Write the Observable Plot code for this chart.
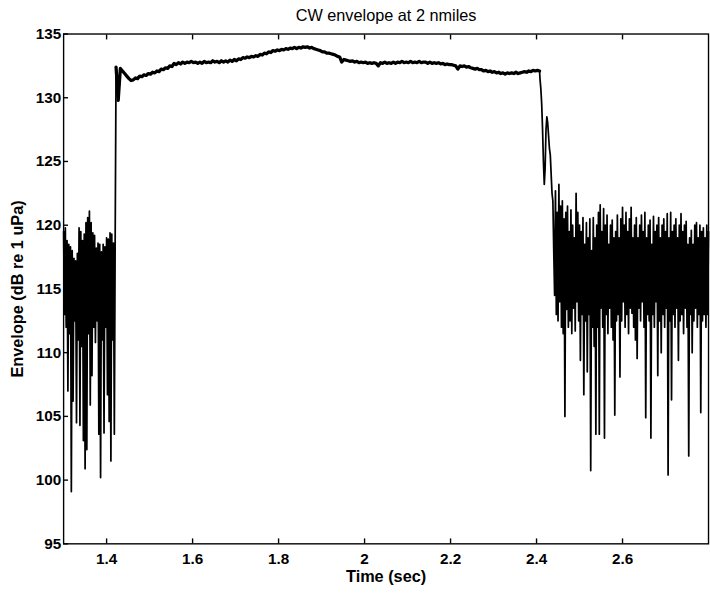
<!DOCTYPE html>
<html>
<head>
<meta charset="utf-8">
<script src="https://cdn.jsdelivr.net/npm/d3@7"></script>
<script src="https://cdn.jsdelivr.net/npm/@observablehq/plot@0.6"></script>
<style>
  html, body { margin: 0; padding: 0; background: #fff; overflow: hidden; }
  #chart { position: absolute; left: 0; top: 0; }
</style>
</head>
<body>
<div id="chart"></div>
<script>
// ---- Chart text ----
const titleText = "CW envelope at 2 nmiles";
const xLabel = "Time (sec)";
const yLabel = "Envelope (dB re 1 uPa)";

// ---- Axis ticks ----
const xTicks = [1.4, 1.6, 1.8, 2.0, 2.2, 2.4, 2.6];
const xTickLabels = ["1.4", "1.6", "1.8", "2", "2.2", "2.4", "2.6"];
const yTicks = [95, 100, 105, 110, 115, 120, 125, 130, 135];
const xDomain = [1.3, 2.8];
const yDomain = [95, 135];

// ---- Pre-pulse noise (sampled every 2 ms from 1.300 s) ----
const noiseBeforeT0 = 1.300;
const noiseBeforeDt = 0.002;
const noiseBefore = [
  119.5, 113.0, 119.8, 112.0, 118.8, 107.0, 118.5, 111.5, 118.3, 99.1,
  118.0, 106.2, 117.4, 112.5, 117.2, 104.5, 117.8, 111.0, 119.8, 104.3,
  119.5, 110.5, 118.8, 103.1, 119.3, 100.9, 120.2, 102.4, 120.6, 111.5,
  121.1, 105.9, 120.2, 108.2, 119.4, 112.0, 119.2, 110.8, 118.2, 112.5,
  118.6, 103.6, 118.5, 100.2, 117.9, 111.0, 118.5, 103.7, 118.3, 112.0,
  119.0, 106.7, 118.9, 104.6, 119.4, 101.5, 119.3, 111.0, 118.6, 103.6,
  119.4
];

// ---- CW pulse plateau (sampled every 5 ms from 1.422 s) ----
const pulseT0 = 1.422;
const pulseDt = 0.005;
const pulse = [
  132.4, 129.8, 132.3, 132.1, 131.9, 131.7, 131.5, 131.35, 131.4, 131.55,
  131.5, 131.7, 131.65, 131.8, 131.75, 131.9, 131.85, 132.0, 131.95, 132.1,
  132.05, 132.25, 132.2, 132.35, 132.3, 132.5, 132.45, 132.7, 132.6, 132.75,
  132.65, 132.8, 132.7, 132.8, 132.75, 132.85, 132.75, 132.8, 132.7, 132.8,
  132.7, 132.85, 132.75, 132.8, 132.75, 132.9, 132.8, 132.85, 132.75, 132.9,
  132.8, 132.9, 132.8, 132.95, 132.85, 133.0, 132.9, 133.05, 133.0, 133.15,
  133.1, 133.2, 133.15, 133.25, 133.2, 133.3, 133.25, 133.4, 133.35, 133.5,
  133.45, 133.6, 133.55, 133.7, 133.65, 133.75, 133.7, 133.8, 133.75, 133.85,
  133.8, 133.9, 133.85, 133.95, 133.85, 133.95, 133.9, 134.0, 133.95, 134.0,
  133.9, 133.95, 133.85, 133.8, 133.75, 133.7, 133.6, 133.6, 133.5, 133.5,
  133.45, 133.4, 133.35, 133.25, 133.2, 132.8, 133.0, 132.95, 132.9, 132.85,
  132.9, 132.8, 132.85, 132.75, 132.8, 132.75, 132.8, 132.7, 132.75, 132.7,
  132.75, 132.7, 132.5, 132.75, 132.7, 132.8, 132.7, 132.75, 132.7, 132.8,
  132.7, 132.8, 132.75, 132.85, 132.75, 132.8, 132.75, 132.85, 132.75, 132.8,
  132.75, 132.85, 132.75, 132.8, 132.8, 132.7, 132.8, 132.7, 132.75, 132.7,
  132.75, 132.65, 132.7, 132.6, 132.65, 132.6, 132.6, 132.55, 132.5, 132.25,
  132.5, 132.45, 132.5, 132.4, 132.45, 132.35, 132.3, 132.25, 132.3, 132.2,
  132.2, 132.1, 132.15, 132.05, 132.1, 132.0, 132.05, 131.95, 132.0, 131.9,
  131.95, 131.85, 131.95, 131.9, 131.95, 131.9, 132.0, 131.9, 131.95, 132.0,
  132.05, 132.0, 132.1, 132.05, 132.15, 132.1, 132.15, 132.1
];

// ---- Decay and post-pulse noise (sampled every 2 ms from 2.408 s) ----
const noiseAfterT0 = 2.408;
const noiseAfterDt = 0.002;
const noiseAfter = [
  131.5, 130.7, 129.5, 127.5, 125.0, 123.2, 124.5, 127.5, 128.5, 128.0,
  127.0, 126.0, 125.5, 124.0, 122.5, 121.9, 118.0, 114.5, 122.7, 113.0,
  121.0, 112.5, 123.2, 114.0, 121.5, 112.0, 121.9, 111.5, 120.5, 105.0,
  121.0, 113.4, 121.5, 112.0, 119.5, 112.5, 121.2, 111.5, 120.0, 113.5,
  119.0, 111.7, 122.5, 114.0, 121.0, 112.5, 120.0, 109.4, 119.5, 113.0,
  120.6, 106.7, 118.5, 112.5, 120.2, 108.5, 119.0, 113.0, 120.5, 100.75,
  118.0, 112.0, 120.6, 110.5, 119.0, 103.6, 120.0, 112.0, 121.0, 103.6,
  121.6, 113.5, 119.5, 112.0, 121.3, 103.3, 120.0, 113.0, 120.8, 111.5,
  118.5, 113.5, 120.0, 112.0, 120.4, 111.0, 119.0, 105.1, 119.5, 112.5,
  120.8, 113.0, 119.0, 108.1, 120.5, 112.5, 121.4, 114.0, 120.0, 112.0,
  121.0, 113.0, 119.5, 111.5, 120.5, 113.5, 121.4, 113.1, 119.0, 112.0,
  120.0, 111.0, 120.6, 109.55, 119.0, 113.5, 120.0, 112.5, 120.8, 114.0,
  119.5, 112.0, 121.0, 104.9, 119.0, 113.0, 120.0, 112.5, 120.4, 103.3,
  118.5, 113.0, 120.7, 112.0, 119.5, 114.0, 120.0, 108.2, 120.6, 112.5,
  119.0, 110.0, 120.0, 113.0, 120.5, 112.0, 119.5, 113.5, 120.9, 100.4,
  119.0, 112.5, 121.0, 106.3, 119.5, 113.0, 120.0, 112.0, 120.5, 113.5,
  119.0, 109.4, 120.0, 112.5, 120.9, 113.0, 119.5, 111.5, 120.0, 113.5,
  120.3, 112.0, 118.5, 101.9, 119.0, 113.0, 119.6, 110.0, 118.5, 112.5,
  120.0, 113.5, 120.2, 112.0, 119.0, 113.0, 120.0, 105.3, 119.5, 112.5,
  119.8, 113.0, 119.0, 112.0, 120.0, 113.0, 119.5
];

function samples(t0, dt, values) {
  return values.map((v, i) => ({t: t0 + i * dt, v}));
}
const beforeData = samples(noiseBeforeT0, noiseBeforeDt, noiseBefore);
const pulseData = samples(pulseT0, pulseDt, pulse);
const afterData = samples(noiseAfterT0, noiseAfterDt, noiseAfter);
const allData = [...beforeData, ...pulseData, ...afterData];

const fontFamily = "'Liberation Sans', Arial, Helvetica, sans-serif";

const chart = Plot.plot({
  width: 720,
  height: 598,
  marginTop: 34,
  marginBottom: 47,
  marginLeft: 64,
  marginRight: 2,
  style: {fontFamily, fontSize: "15px", color: "#000", background: "#fff", overflow: "visible"},
  x: {domain: xDomain, label: null},
  y: {domain: yDomain, label: null},
  marks: [
    Plot.line(allData, {x: "t", y: "v", stroke: "#000", strokeWidth: 1.75}),
    Plot.line(pulseData, {x: "t", y: "v", stroke: "#000", strokeWidth: 3.3}),
    Plot.frame({stroke: "#000", strokeWidth: 1.4}),
    Plot.axisX(xTicks, {
      anchor: "bottom", tickSize: -5, tickPadding: 14, strokeWidth: 1.4,
      tickFormat: (d) => xTickLabels[xTicks.indexOf(d)],
      fontWeight: "bold", fontSize: 15.5, label: null
    }),
    Plot.axisX(xTicks, {anchor: "top", tickSize: -5, strokeWidth: 1.4, tickFormat: () => "", label: null}),
    Plot.axisY(yTicks, {
      anchor: "left", tickSize: -5, tickPadding: 7.5, strokeWidth: 1.4,
      fontWeight: "bold", fontSize: 15.5, label: null
    }),
    Plot.text([xLabel], {frameAnchor: "bottom", lineAnchor: "middle", dy: 33, text: (d) => d, fontSize: 16.5, fontWeight: "bold", fill: "#000"}),
    Plot.text([yLabel], {frameAnchor: "left", textAnchor: "middle", lineAnchor: "middle", dx: -46, rotate: -90, text: (d) => d, fontSize: 16.5, fontWeight: "bold", fill: "#000"}),
    Plot.text([titleText], {frameAnchor: "top", lineAnchor: "middle", dy: -19, text: (d) => d, fontSize: 16.5, fill: "#000"})
  ]
});
document.getElementById("chart").appendChild(chart);
</script>
</body>
</html>
